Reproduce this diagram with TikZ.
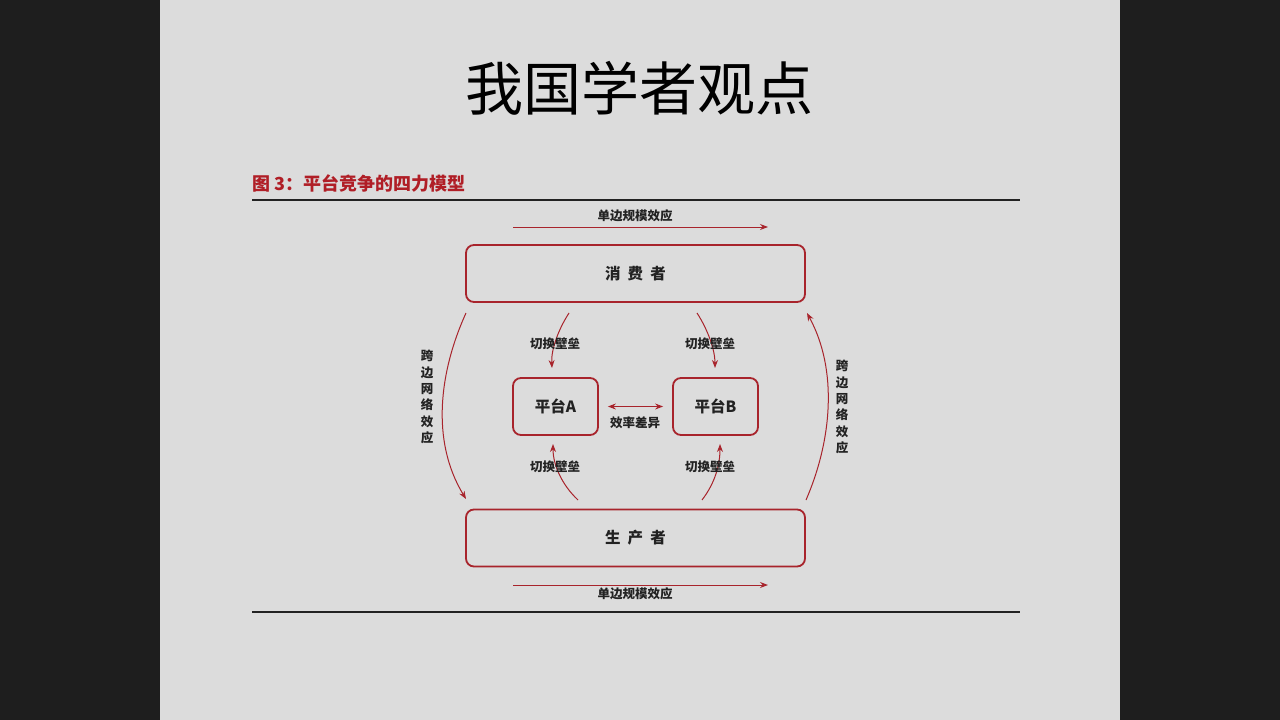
\documentclass[tikz,border=0pt]{standalone}
\usepackage{fontspec}
\usetikzlibrary{arrows.meta}
\newfontfamily\cjk{Noto Sans CJK SC}
\definecolor{slide}{HTML}{DCDCDC}
\definecolor{frame}{HTML}{1E1E1E}
\definecolor{boxred}{HTML}{A8242C}
\definecolor{capred}{HTML}{B01E26}
\definecolor{ink}{HTML}{222222}
\begin{document}
\begin{tikzpicture}[x=1pt,y=-1pt,
  bigbox/.style={draw=boxred,line width=1.8pt,rounded corners=8pt,minimum width=339pt,minimum height=57pt,font=\cjk\fontsize{15.5}{15.5}\selectfont\bfseries,text=ink},
  platbox/.style={draw=boxred,line width=1.8pt,rounded corners=8pt,minimum width=85pt,minimum height=57pt,font=\cjk\fontsize{15.5}{15.5}\selectfont\bfseries,text=ink},
  lbl/.style={font=\cjk\fontsize{12.5}{16.3}\selectfont\bfseries,text=ink,inner sep=0pt},
  tip/.tip={Stealth[length=8pt,width=6pt]},
  conn/.style={draw=boxred,line width=1pt,-tip},
  rule/.style={draw=ink,line width=1.4pt}]
% page and slide
\fill[frame] (0,0) rectangle (1280,720);
\fill[slide] (160,0) rectangle (1120,720);
\useasboundingbox (0,0) rectangle (1280,720);

% headings
\node[font=\cjk\fontsize{58}{58}\selectfont,text=black] (title) at (639,88) {我国学者观点};
\node[anchor=west,font=\cjk\fontsize{18}{18}\selectfont\bfseries,text=capred,inner sep=0pt] (cap) at (252,183) {图\ 3：平台竞争的四力模型};
\coordinate (r1a) at (252,200); \coordinate (r1b) at (1020,200);
\coordinate (r2a) at (252,612); \coordinate (r2b) at (1020,612);
\draw[rule] (r1a) -- (r1b);
\draw[rule] (r2a) -- (r2b);

% boxes
\node[bigbox] (cons) at (635.5,273.5) {消\ \ 费\ \ 者};
\node[bigbox] (prod) at (635.5,538) {生\ \ 产\ \ 者};
\node[platbox] (pa) at (555.5,406.5) {平台A};
\node[platbox] (pb) at (715.5,406.5) {平台B};

% one-sided scale effects
\coordinate (t1) at (513,227); \coordinate (t2) at (768,227);
\draw[conn] (t1) -- (t2);
\node[lbl] (tl) at (635,216) {单边规模效应};
\coordinate (b1) at (513,585); \coordinate (b2) at (768,585);
\draw[conn] (b1) -- (b2);
\node[lbl] (bl) at (635,594) {单边规模效应};

% efficiency difference
\draw[draw=boxred,line width=1pt,tip-tip] ([xshift=9pt]pa.east) -- ([xshift=-9pt]pb.west);
\node[lbl] (eff) at (635,423) {效率差异};

% switching barriers
\coordinate (ca0) at (569,313); \coordinate (ca1) at (552,368);
\draw[conn] (ca0) .. controls (558,330) and (551,350) .. (ca1);
\node[lbl] (sw1) at (555,344) {切换壁垒};
\coordinate (cb0) at (697,313); \coordinate (cb1) at (715,368);
\draw[conn] (cb0) .. controls (708,330) and (715,350) .. (cb1);
\node[lbl] (sw2) at (710,344) {切换壁垒};
\coordinate (pa0) at (578,500); \coordinate (pa1) at (553,444);
\draw[conn] (pa0) .. controls (562,485) and (553,465) .. (pa1);
\node[lbl] (sw3) at (555,467) {切换壁垒};
\coordinate (pb0) at (702,500); \coordinate (pb1) at (720,444);
\draw[conn] (pb0) .. controls (715,483) and (720,465) .. (pb1);
\node[lbl] (sw4) at (710,467) {切换壁垒};

% cross-side network effects
\coordinate (l0) at (466,313); \coordinate (l1) at (466,499);
\draw[conn] (l0) .. controls (440,370) and (430,440) .. (l1);
\node[lbl,align=center] (ll) at (427,397) {跨\\边\\网\\络\\效\\应};
\coordinate (rr0) at (806,500); \coordinate (rr1) at (807,313);
\draw[conn] (rr0) .. controls (832,440) and (838,370) .. (rr1);
\node[lbl,align=center] (rl) at (842,407) {跨\\边\\网\\络\\效\\应};
\end{tikzpicture}
\end{document}
